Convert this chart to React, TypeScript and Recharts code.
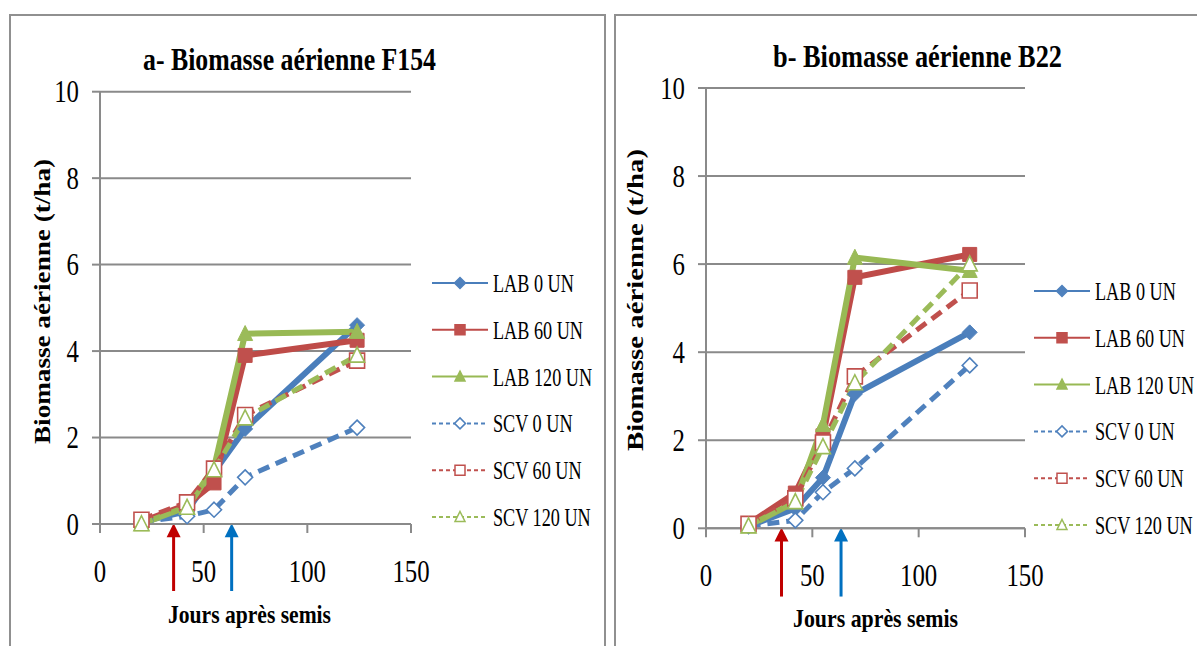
import React from 'react';
import { LineChart, Line, XAxis, YAxis, CartesianGrid, ReferenceLine } from 'recharts';

// ---- data ----
const days = [20, 42, 55, 70, 124];

const f154Lab0 = [0.05, 0.3, 1.2, 2.2, 4.6];
const f154Lab60 = [0.05, 0.45, 0.95, 3.9, 4.25];
const f154Lab120 = [0.0, 0.4, 1.3, 4.4, 4.45];
const f154Scv0 = [0.05, 0.18, 0.33, 1.08, 2.23];
const f154Scv60 = [0.1, 0.5, 1.28, 2.52, 3.78];
const f154Scv120 = [0.0, 0.38, 1.25, 2.45, 3.9];

const b22Lab0 = [0.05, 0.45, 1.15, 3.05, 4.45];
const b22Lab60 = [0.1, 0.8, 2.1, 5.7, 6.22];
const b22Lab120 = [0.05, 0.6, 2.35, 6.15, 5.85];
const b22Scv0 = [0.05, 0.18, 0.82, 1.36, 3.7];
const b22Scv60 = [0.1, 0.68, 1.95, 3.45, 5.4];
const b22Scv120 = [0.05, 0.6, 1.85, 3.3, 6.0];

const seriesKeys = ['lab0', 'lab60', 'lab120', 'scv0', 'scv60', 'scv120'];
const seriesNames = ['LAB 0 UN', 'LAB 60 UN', 'LAB 120 UN', 'SCV 0 UN', 'SCV 60 UN', 'SCV 120 UN'];
const xTicks = [0, 50, 100, 150];
const yTicks = [0, 2, 4, 6, 8, 10];
const arrowDays = [35.5, 63.5];
const titles = ['a- Biomasse aérienne F154', 'b- Biomasse aérienne B22'];
const yLabel = 'Biomasse aérienne (t/ha)';
const xLabel = 'Jours après semis';

const buildRows = (series: number[][]) =>
  days.map((d, i) => {
    const row: Record<string, number> = { day: d };
    seriesKeys.forEach((k, j) => (row[k] = series[j][i]));
    return row;
  });

const dataF154 = buildRows([f154Lab0, f154Lab60, f154Lab120, f154Scv0, f154Scv60, f154Scv120]);
const dataB22 = buildRows([b22Lab0, b22Lab60, b22Lab120, b22Scv0, b22Scv60, b22Scv120]);

// ---- styles ----
const SERIF = "'Liberation Serif', 'Times New Roman', serif";
const GRID = '#8a8a8a';
type Shape = 'diamond' | 'square' | 'triangle';
const styles: { stroke: string; fill: string; shape: Shape; dashed: boolean }[] = [
  { stroke: '#4A7EBB', fill: '#4F81BD', shape: 'diamond', dashed: false },
  { stroke: '#BE4B48', fill: '#C0504D', shape: 'square', dashed: false },
  { stroke: '#98B954', fill: '#9BBB59', shape: 'triangle', dashed: false },
  { stroke: '#4F81BD', fill: '#ffffff', shape: 'diamond', dashed: true },
  { stroke: '#C0504D', fill: '#ffffff', shape: 'square', dashed: true },
  { stroke: '#9BBB59', fill: '#ffffff', shape: 'triangle', dashed: true },
];

const shapePath = (shape: Shape, cx: number, cy: number, s: number) => {
  if (shape === 'diamond') return `M${cx},${cy - s / 2}L${cx + s / 2},${cy}L${cx},${cy + s / 2}L${cx - s / 2},${cy}Z`;
  if (shape === 'square') return `M${cx - s / 2},${cy - s / 2}h${s}v${s}h${-s}Z`;
  return `M${cx},${cy - s * 0.55}L${cx + s / 2},${cy + s * 0.45}L${cx - s / 2},${cy + s * 0.45}Z`;
};

const makeDot = (idx: number, prefix: string) => (props: any) => {
  const st = styles[idx];
  const { cx, cy, index } = props;
  const size = st.dashed ? 15 : st.shape === 'square' ? 14 : 15;
  return (
    <path
      key={`${prefix}-${idx}-${index}`}
      d={shapePath(st.shape, cx, cy, size)}
      fill={st.fill}
      stroke={st.dashed ? st.stroke : st.fill}
      strokeWidth={st.dashed ? 1.6 : 1}
    />
  );
};

const arrowShape = (color: string) => (p: any) => {
  const { x1, y1, x2, y2 } = p;
  const tipY = Math.min(y1, y2);
  const baseY = Math.max(y1, y2);
  const x = x1 ?? x2;
  return (
    <g>
      <line x1={x} y1={baseY} x2={x} y2={tipY + 12} stroke={color} strokeWidth={3} />
      <path d={`M${x},${tipY}L${x + 7},${tipY + 14}L${x - 7},${tipY + 14}Z`} fill={color} />
    </g>
  );
};

const renderYTick = (props: any) => {
  const { x, y, payload } = props;
  return (
    <text
      transform={`translate(${x},${y}) scale(0.8,1)`}
      textAnchor="end"
      dy={10.5}
      style={{ fontSize: 31, fontFamily: SERIF }}
      fill="#000"
    >
      {payload.value}
    </text>
  );
};

const renderXTick = (props: any) => {
  const { x, y, payload } = props;
  return (
    <text
      transform={`translate(${x},${y}) scale(0.8,1)`}
      textAnchor="middle"
      dy={49}
      style={{ fontSize: 31, fontFamily: SERIF }}
      fill="#000"
    >
      {payload.value}
    </text>
  );
};

type PanelGeo = {
  data: Record<string, number>[];
  margin: { top: number; right: number; bottom: number; left: number };
  prefix: string;
};

const AXIS_W = 40;
const AXIS_H = 40;

const Chart = ({ data, margin, prefix }: PanelGeo) => (
  <div style={{ position: 'absolute', left: 0, top: 0 }}>
    <LineChart
      width={1197}
      height={646}
      data={data}
      margin={{ ...margin, left: margin.left - AXIS_W, bottom: margin.bottom - AXIS_H }}
    >
      <CartesianGrid vertical={false} stroke={GRID} strokeWidth={2} />
      <XAxis
        type="number"
        dataKey="day"
        domain={[0, 150]}
        ticks={xTicks}
        height={AXIS_H}
        tickSize={9}
        tickMargin={0}
        stroke={GRID}
        strokeWidth={2}
        tick={renderXTick}
        interval={0}
      />
      <YAxis
        type="number"
        domain={[0, 10]}
        ticks={yTicks}
        width={AXIS_W}
        tickSize={8}
        tickMargin={13}
        stroke={GRID}
        strokeWidth={2}
        tick={renderYTick}
        interval={0}
      />
      {seriesKeys.map((k, i) => (
        <Line
          key={k}
          type="linear"
          dataKey={k}
          name={seriesNames[i]}
          stroke={styles[i].stroke}
          strokeWidth={styles[i].dashed ? 5 : 6}
          strokeDasharray={styles[i].dashed ? '12 7' : undefined}
          dot={makeDot(i, prefix)}
          activeDot={false}
          isAnimationActive={false}
        />
      ))}
      <ReferenceLine
        segment={[{ x: arrowDays[0], y: -1.55 }, { x: arrowDays[0], y: 0.02 }]}
        ifOverflow="visible"
        shape={arrowShape('#C00000')}
      />
      <ReferenceLine
        segment={[{ x: arrowDays[1], y: -1.55 }, { x: arrowDays[1], y: 0.02 }]}
        ifOverflow="visible"
        shape={arrowShape('#0070C0')}
      />
    </LineChart>
  </div>
);

const LegendBlock = ({ x0, y0, prefix }: { x0: number; y0: number; prefix: string }) => (
  <g>
    {seriesNames.map((name, i) => {
      const st = styles[i];
      const y = y0 + i * 46.8;
      const size = st.shape === 'diamond' ? 11 : 10;
      return (
        <g key={`${prefix}-leg-${i}`}>
          <line
            x1={x0}
            x2={x0 + 56}
            y1={y}
            y2={y}
            stroke={st.stroke}
            strokeWidth={2}
            strokeDasharray={st.dashed ? '4 3' : undefined}
          />
          <path
            d={shapePath(st.shape, x0 + 28, y, size)}
            fill={st.fill}
            stroke={st.dashed ? st.stroke : st.fill}
            strokeWidth={1.5}
          />
          <text
            transform={`translate(${x0 + 61},${y + 9}) scale(0.7,1)`}
            style={{ fontSize: 26, fontFamily: SERIF }}
            fill="#000"
          >
            {name}
          </text>
        </g>
      );
    })}
  </g>
);

const boldText = { fontFamily: SERIF, fontWeight: 'bold' as const };

export default function App() {
  return (
    <div
      style={{
        position: 'absolute',
        left: 0,
        top: 0,
        width: 1197,
        height: 646,
        overflow: 'hidden',
        background: '#fff',
      }}
    >
      <div
        style={{
          position: 'absolute',
          left: 9,
          top: 14,
          width: 593,
          height: 700,
          border: '2px solid #909090',
        }}
      />
      <div
        style={{
          position: 'absolute',
          left: 614,
          top: 14,
          width: 700,
          height: 700,
          border: '2px solid #909090',
        }}
      />
      <Chart data={dataF154} margin={{ top: 91.7, right: 786, bottom: 122, left: 100 }} prefix="a" />
      <Chart data={dataB22} margin={{ top: 88, right: 172, bottom: 117.7, left: 706 }} prefix="b" />
      <svg
        width={1197}
        height={646}
        style={{ position: 'absolute', left: 0, top: 0, pointerEvents: 'none' }}
      >
        <text x={143} y={70} style={{ ...boldText, fontSize: 32 }} textLength={293} lengthAdjust="spacingAndGlyphs">
          {titles[0]}
        </text>
        <text x={773} y={67} style={{ ...boldText, fontSize: 32 }} textLength={289} lengthAdjust="spacingAndGlyphs">
          {titles[1]}
        </text>
        <text
          transform="translate(50,302) rotate(-90)"
          x={-142}
          y={0}
          style={{ ...boldText, fontSize: 24 }}
          textLength={285}
          lengthAdjust="spacingAndGlyphs"
        >
          {yLabel}
        </text>
        <text
          transform="translate(643,300) rotate(-90)"
          x={-151}
          y={0}
          style={{ ...boldText, fontSize: 24 }}
          textLength={302}
          lengthAdjust="spacingAndGlyphs"
        >
          {yLabel}
        </text>
        <text x={168} y={623} style={{ ...boldText, fontSize: 26 }} textLength={163} lengthAdjust="spacingAndGlyphs">
          {xLabel}
        </text>
        <text x={793} y={627} style={{ ...boldText, fontSize: 26 }} textLength={165} lengthAdjust="spacingAndGlyphs">
          {xLabel}
        </text>
        <LegendBlock x0={432} y0={283} prefix="a" />
        <LegendBlock x0={1034} y0={291} prefix="b" />
      </svg>
    </div>
  );
}
